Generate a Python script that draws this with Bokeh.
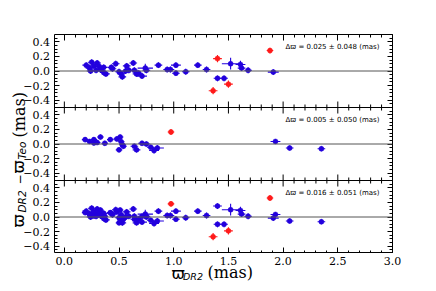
import math
from bokeh.plotting import figure
from bokeh.layouts import column, row
from bokeh.models import (Range1d, LinearAxis, SingleIntervalTicker, FixedTicker,
                          CustomJSTickFormatter, Span, Label, ColumnDataSource)
from bokeh.transform import dodge
from bokeh.embed import file_html
from bokeh.resources import INLINE

BLUE = "#2200dd"
RED = "#ff1a1a"

# ---------------- data ----------------
# panel 1 (top)
p1_blue_x = [0.20, 0.23, 0.25, 0.24, 0.27, 0.30, 0.29, 0.32, 0.33, 0.36, 0.38, 0.36,
             0.43, 0.47, 0.44, 0.50, 0.52, 0.53, 0.57, 0.56, 0.59, 0.63, 0.64, 0.66,
             0.68, 0.71, 0.74, 0.75, 0.86, 0.94, 0.97, 1.02, 1.02, 1.11, 1.22, 1.30,
             1.40, 1.46, 1.52, 1.61, 1.62, 1.68, 1.91]
p1_blue_y = [0.08, 0.04, 0.12, 0.00, 0.07, 0.11, 0.01, 0.06, 0.02, 0.05, -0.04, -0.02,
             0.05, 0.10, 0.03, -0.01, -0.04, -0.08, 0.07, 0.00, 0.01, 0.11, 0.01, -0.04,
             -0.03, -0.07, 0.04, 0.01, 0.08, 0.02, 0.02, 0.08, -0.03, -0.01, 0.08, 0.02,
             -0.10, -0.10, 0.10, 0.09, 0.04, 0.01, -0.015]
p1_blue_xerr = [0.035, 0.035, 0.035, 0.035, 0.035, 0.035, 0.035, 0.035, 0.035, 0.035, 0.035, 0.035,
                0.035, 0.035, 0.035, 0.035, 0.035, 0.035, 0.035, 0.035, 0.035, 0.035, 0.035, 0.035,
                0.035, 0.045, 0.07, 0.035, 0.035, 0.035, 0.035, 0.045, 0.035, 0.035, 0.035, 0.035,
                0.035, 0.035, 0.08, 0.045, 0.035, 0.035, 0.05]
p1_blue_yerr = [0.04, 0.04, 0.04, 0.04, 0.04, 0.04, 0.04, 0.04, 0.04, 0.04, 0.04, 0.04,
                0.04, 0.04, 0.04, 0.04, 0.04, 0.04, 0.04, 0.04, 0.04, 0.04, 0.04, 0.04,
                0.04, 0.04, 0.06, 0.04, 0.04, 0.04, 0.04, 0.04, 0.04, 0.04, 0.04, 0.04,
                0.04, 0.04, 0.08, 0.05, 0.04, 0.04, 0.04]
p1_red_x = [1.40, 1.36, 1.50, 1.88]
p1_red_y = [0.17, -0.27, -0.18, 0.28]
p1_red_xerr = [0.04, 0.04, 0.04, 0.03]
p1_red_yerr = [0.05, 0.05, 0.05, 0.04]

# panel 2 (middle)
p2_blue_x = [0.19, 0.23, 0.27, 0.27, 0.30, 0.33, 0.37, 0.42, 0.48, 0.51, 0.50, 0.52,
             0.53, 0.54, 0.64, 0.66, 0.71, 0.75, 0.79, 0.82, 0.85, 1.93, 2.06, 2.35]
p2_blue_y = [0.06, 0.035, 0.06, 0.015, 0.02, 0.095, 0.01, 0.06, 0.07, 0.095, -0.08, 0.03,
             -0.01, -0.03, -0.03, -0.08, 0.01, 0.00, -0.045, -0.09, -0.055, 0.035, -0.055, -0.065]
p2_blue_xerr = [0.03, 0.03, 0.03, 0.03, 0.03, 0.03, 0.03, 0.03, 0.03, 0.03, 0.03, 0.03,
                0.03, 0.03, 0.035, 0.035, 0.035, 0.035, 0.035, 0.045, 0.06, 0.045, 0.035, 0.035]
p2_blue_yerr = [0.035, 0.035, 0.035, 0.035, 0.035, 0.035, 0.035, 0.035, 0.035, 0.035, 0.035, 0.035,
                0.035, 0.035, 0.035, 0.035, 0.035, 0.035, 0.035, 0.04, 0.04, 0.035, 0.035, 0.035]
p2_red_x = [0.975]
p2_red_y = [0.165]
p2_red_xerr = [0.03]
p2_red_yerr = [0.04]

# panel 3 (bottom) = all sources
p3_blue_x = p1_blue_x + p2_blue_x + [1.40]
p3_blue_y = p1_blue_y + p2_blue_y + [0.15]
p3_blue_xerr = p1_blue_xerr + p2_blue_xerr + [0.04]
p3_blue_yerr = p1_blue_yerr + p2_blue_yerr + [0.04]
p3_red_x = p1_red_x[1:] + p2_red_x
p3_red_y = [-0.27, -0.19, 0.26] + [0.18]
p3_red_xerr = p1_red_xerr[1:] + p2_red_xerr
p3_red_yerr = p1_red_yerr[1:] + p2_red_yerr

notes = ["Δϖ = 0.025 ± 0.048 (mas)",
         "Δϖ = 0.005 ± 0.050 (mas)",
         "Δϖ = 0.016 ± 0.051 (mas)"]

x_tick_values = [0.0, 0.5, 1.0, 1.5, 2.0, 2.5, 3.0]
x_tick_labels = ["0.0", "0.5", "1.0", "1.5", "2.0", "2.5", "3.0"]
y_tick_values = [-0.4, -0.2, 0.0, 0.2, 0.4]
y_tick_labels = ["−0.4", "−0.2", "0.0", "0.2", "0.4"]

# ---------------- layout constants ----------------
X_RANGE = (-0.09, 3.0)
PANEL_OFFSETS = [1.0, 0.0, -1.0]          # vertical stacking of the 3 panels
FRAME_W, PANEL_H = 338, 73
FRAME_H = 3 * PANEL_H
PAGE_X0 = 0        # page x of the layout's left edge
LAB_W = 50         # strip left of the panels: y tick labels + y title
GAP_L = 4          # small left border of the panels
RIGHT_B, TOP_B = 20, 34
XF_H = 34          # strip under the panels: x tick labels + x title
FRAME_LEFT = PAGE_X0 + LAB_W + GAP_L

p = figure(frame_width=FRAME_W, frame_height=FRAME_H,
           x_range=Range1d(*X_RANGE), y_range=Range1d(-1.5, 1.5),
           output_backend="svg", toolbar_location=None,
           x_axis_location=None, y_axis_location=None,
           min_border_left=GAP_L, min_border_right=RIGHT_B,
           min_border_top=TOP_B, min_border_bottom=0)
p.grid.visible = False
p.outline_line_color = "black"
p.outline_line_width = 1

y_major = [o + t for o in PANEL_OFFSETS for t in y_tick_values]
y_minor = [o + k * 0.05 for o in PANEL_OFFSETS for k in range(-9, 10) if k % 4 != 0]
empty_fmt = CustomJSTickFormatter(code="return '';")


def style(ax, tick_in):
    ax.axis_line_color = None
    ax.major_tick_in = tick_in
    ax.major_tick_out = 0
    ax.minor_tick_in = 3
    ax.minor_tick_out = 0
    ax.formatter = empty_fmt
    ax.major_label_text_font_size = "0px"
    ax.major_label_standoff = 0


for side in ("left", "right"):
    ax = LinearAxis(ticker=FixedTicker(ticks=y_major, minor_ticks=y_minor))
    style(ax, 5)
    p.add_layout(ax, side)
for side in ("above", "below"):
    ax = LinearAxis(ticker=SingleIntervalTicker(interval=0.5, num_minor_ticks=5))
    style(ax, 6)
    p.add_layout(ax, side)

# panel separators with x ticks pointing both ways
x_minor = [i / 10 for i in range(0, 31) if i % 5 != 0]
for sep in (0.5, -0.5):
    p.add_layout(Span(location=sep, dimension="width", line_color="black", line_width=1))
    p.scatter(x=x_tick_values, y=[sep] * len(x_tick_values), marker="dash",
              angle=math.pi / 2, size=12, line_color="black", line_width=1)
    p.scatter(x=x_minor, y=[sep] * len(x_minor), marker="dash",
              angle=math.pi / 2, size=6, line_color="black", line_width=1)


def errorbars(xs, ys, xe, ye, color, off):
    src = ColumnDataSource(dict(
        x=xs, y=ys,
        x0=[a - e for a, e in zip(xs, xe)], x1=[a + e for a, e in zip(xs, xe)],
        y0=[b - e for b, e in zip(ys, ye)], y1=[b + e for b, e in zip(ys, ye)]))
    p.segment(x0="x0", y0=dodge("y", off), x1="x1", y1=dodge("y", off), source=src,
              line_color=color, line_width=1.1)
    p.segment(x0="x", y0=dodge("y0", off), x1="x", y1=dodge("y1", off), source=src,
              line_color=color, line_width=1.1)
    p.scatter(x="x", y=dodge("y", off), source=src, size=5, marker="circle",
              fill_color=color, line_color=color, line_width=0.5)


panels = [
    (p1_blue_x, p1_blue_y, p1_blue_xerr, p1_blue_yerr, p1_red_x, p1_red_y, p1_red_xerr, p1_red_yerr),
    (p2_blue_x, p2_blue_y, p2_blue_xerr, p2_blue_yerr, p2_red_x, p2_red_y, p2_red_xerr, p2_red_yerr),
    (p3_blue_x, p3_blue_y, p3_blue_xerr, p3_blue_yerr, p3_red_x, p3_red_y, p3_red_xerr, p3_red_yerr),
]
for off, data, note in zip(PANEL_OFFSETS, panels, notes):
    bx, by, bxe, bye, rx, ry, rxe, rye = data
    p.add_layout(Span(location=off, dimension="width", line_color="#555555", line_width=1))
    errorbars(bx, by, bxe, bye, BLUE, off)
    errorbars(rx, ry, rxe, rye, RED, off)
    p.add_layout(Label(x=2.88, y=off + 0.335, text=note, text_align="right",
                       text_baseline="middle", text_font="DejaVu Sans",
                       text_font_size="7px", text_color="black"))

# ---- strip under the panels: x tick labels and x-axis title ----
units_per_px = (X_RANGE[1] - X_RANGE[0]) / FRAME_W
xf_top = TOP_B + FRAME_H
xf = figure(frame_width=FRAME_W + RIGHT_B, frame_height=XF_H,
            x_range=Range1d(X_RANGE[0], X_RANGE[1] + RIGHT_B * units_per_px),
            y_range=Range1d(xf_top + XF_H, xf_top),
            output_backend="svg", toolbar_location=None,
            x_axis_location=None, y_axis_location=None,
            min_border_left=GAP_L, min_border_right=0,
            min_border_top=0, min_border_bottom=0)
xf.grid.visible = False
xf.outline_line_color = None
for v, t in zip(x_tick_values, x_tick_labels):
    xf.add_layout(Label(x=v, y=xf_top + 7, text=t, text_align="center",
                        text_baseline="middle", text_font="DejaVu Serif",
                        text_font_size="11px", text_color="black"))


def xdata(page_x):
    return X_RANGE[0] + (page_x - FRAME_LEFT) * units_per_px


for txt, px, py, font, size, fstyle in [
        ("ϖ", 171, xf_top + 19.5, "DejaVu Sans", "16px", "normal"),
        ("DR2", 182.5, xf_top + 23, "DejaVu Sans", "9.5px", "italic"),
        ("(mas)", 207, xf_top + 19, "DejaVu Serif", "16px", "normal")]:
    xf.add_layout(Label(x=xdata(px), y=py, text=txt, text_align="left",
                        text_baseline="middle", text_font=font,
                        text_font_size=size, text_font_style=fstyle,
                        text_color="black"))

# ---- strip left of the panels: y tick labels and y-axis title ----
lab = figure(frame_width=LAB_W, frame_height=FRAME_H,
             x_range=Range1d(PAGE_X0, PAGE_X0 + LAB_W), y_range=p.y_range,
             output_backend="svg", toolbar_location=None,
             x_axis_location=None, y_axis_location=None,
             min_border_left=0, min_border_right=0,
             min_border_top=TOP_B, min_border_bottom=XF_H)
lab.outline_line_color = None
lab.grid.visible = False
for off in PANEL_OFFSETS:
    for v, t in zip(y_tick_values, y_tick_labels):
        lab.add_layout(Label(x=PAGE_X0 + LAB_W - 0.5, y=off + v, text=t,
                             text_align="right", text_baseline="middle",
                             text_font="DejaVu Serif", text_font_size="11px",
                             text_color="black"))


def ydata(page_y):
    return 1.5 - (page_y - TOP_B) / PANEL_H


for txt, px, py, font, size, fstyle in [
        ("ϖ", 18, 227, "DejaVu Sans", "16px", "normal"),
        ("DR2", 21.5, 212, "DejaVu Sans", "10.5px", "italic"),
        ("−", 18.5, 184, "DejaVu Sans", "12px", "normal"),
        ("ϖ", 18, 173, "DejaVu Sans", "16px", "normal"),
        ("Teo", 21.5, 159, "DejaVu Sans", "10.5px", "italic"),
        ("(mas)", 19, 137, "DejaVu Serif", "16px", "normal")]:
    lab.add_layout(Label(x=PAGE_X0 + px, y=ydata(py), text=txt, angle=math.pi / 2,
                         text_align="left", text_baseline="alphabetic",
                         text_font=font, text_font_size=size,
                         text_font_style=fstyle, text_color="black"))

layout = row(lab, column(p, xf))
open("out.html", "w").write(file_html(layout, INLINE))
